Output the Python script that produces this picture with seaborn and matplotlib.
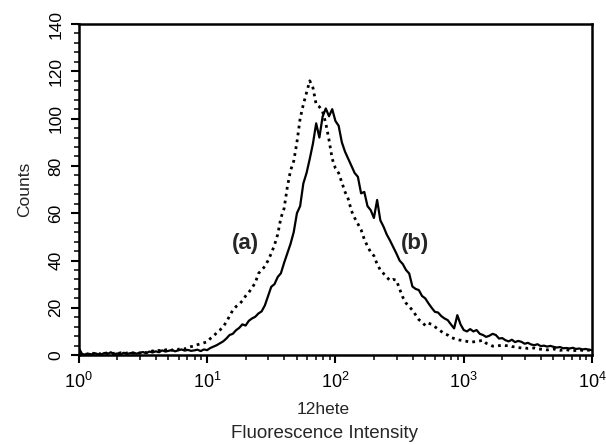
import numpy as np
import pandas as pd
import seaborn as sns
import matplotlib.pyplot as plt
from matplotlib.ticker import MultipleLocator, LogLocator

# log10 channel positions (0 .. 4 decades)
log_pos = np.linspace(0, 4, 161)

# (a) dotted histogram counts
counts_a = [0.5, 0.8, 0.3, 0.6, 1.0, 0.4, 0.7, 0.5, 1.2, 0.6,
            0.4, 0.8, 0.5, 1.0, 0.6, 0.9, 1.3, 0.7, 1.1, 0.8,
            1.5, 1.0, 1.2, 1.8, 1.4, 2.0, 1.6, 2.2, 2.6, 2.0,
            2.8, 2.4, 3.0, 2.6, 3.2, 3.6, 3.8, 4.4, 4.8, 5.2,
            5.6, 7.0, 8.0, 9.5, 10.6, 12.0, 14.0, 16.5, 19.0, 20.5,
            21.5, 23.0, 25.0, 26.5, 28.5, 30.5, 34.5, 36.0, 37.5, 40.0,
            43.0, 46.5, 51.0, 58.0, 62.0, 71.0, 78.0, 82.0, 90.0, 100.0,
            106.0, 111.0, 116.0, 113.0, 106.0, 105.0, 103.0, 98.0, 91.0, 83.0,
            79.0, 77.0, 73.0, 69.0, 66.0, 61.0, 58.0, 55.5, 53.0, 49.0,
            46.0, 43.5, 42.0, 38.5, 36.0, 34.5, 33.0, 31.5, 32.0, 31.7,
            28.0, 24.5, 22.0, 20.5, 19.0, 17.0, 15.0, 14.0, 12.5, 13.5,
            13.0, 12.0, 11.0, 10.0, 9.0, 8.5, 7.5, 7.0, 6.5, 6.3,
            6.0, 5.8, 5.5, 5.6, 5.8, 6.0, 6.3, 5.0, 4.5, 3.8,
            3.8, 4.0, 4.2, 4.0, 4.0, 3.6, 3.5, 3.2, 3.0, 3.1,
            2.8, 2.9, 3.0, 2.6, 2.5, 2.4, 2.2, 2.4, 2.6, 2.2,
            2.0, 2.2, 2.3, 2.0, 1.8, 2.0, 2.2, 2.0, 1.9, 2.1,
            2.0]

# (b) solid histogram counts
counts_b = [3.0, 0.5, 0.2, 0.6, 0.3, 0.8, 0.4, 0.3, 0.9, 0.5,
            1.2, 0.4, 0.7, 0.3, 1.0, 0.5, 0.8, 1.1, 0.6, 1.0,
            1.3, 0.8, 1.5, 1.1, 1.6, 1.2, 2.0, 1.5, 1.8, 2.2,
            1.6, 2.0, 2.4, 1.9, 2.2, 1.8, 2.0, 2.3, 1.7, 2.4,
            2.1, 3.0, 3.6, 4.2, 5.0, 5.8, 7.0, 8.5, 9.0, 10.5,
            11.5, 13.0, 12.5, 14.5, 15.5, 16.2, 17.6, 18.5, 21.0, 25.0,
            28.9, 30.0, 33.0, 34.6, 39.0, 43.0, 47.0, 52.0, 60.0, 63.0,
            72.6, 77.0, 83.0, 89.5, 98.0, 92.0, 100.8, 104.3, 101.0, 104.0,
            99.0, 97.0, 90.0, 86.0, 83.0, 80.0, 77.0, 75.4, 68.4, 69.0,
            63.0, 61.3, 58.0, 65.6, 57.0, 54.3, 51.0, 48.5, 45.8, 43.0,
            40.0, 38.5, 36.0, 34.5, 29.0, 28.0, 27.5, 25.0, 24.0, 21.9,
            20.0, 18.3, 18.0, 16.5, 15.5, 14.8, 13.0, 11.3, 16.9, 13.0,
            10.6, 10.0, 11.0, 10.0, 10.6, 9.0, 8.5, 7.7, 8.2, 9.0,
            8.5, 7.0, 7.2, 6.3, 5.8, 6.5, 5.5, 6.0, 5.6, 4.8,
            5.2, 4.5, 4.2, 4.6, 3.8, 4.0, 3.6, 3.9, 3.5, 3.2,
            3.4, 2.9, 3.0, 2.8, 3.1, 2.6, 2.8, 2.4, 2.6, 2.3,
            2.1]

intensity = 10 ** log_pos

sns.set_style("ticks")
plt.rcParams['font.family'] = ['Liberation Sans', 'DejaVu Sans']
plt.rcParams['mathtext.default'] = 'regular'

fig = plt.figure(figsize=(6.06, 4.45), dpi=100)
ax = fig.add_axes([0.130, 0.202, 0.847, 0.744])

sns.lineplot(x=intensity, y=counts_a, ax=ax, color='black', linewidth=2.0,
             linestyle=(0, (1, 1.5)))
sns.lineplot(x=intensity, y=counts_b, ax=ax, color='black', linewidth=1.6)

ax.set_xscale('log')
ax.set_xlim(1, 1e4)
ax.set_ylim(0, 140)
ax.yaxis.set_major_locator(MultipleLocator(20))
ax.yaxis.set_minor_locator(MultipleLocator(4))
ax.xaxis.set_major_locator(LogLocator(base=10))
ax.xaxis.set_minor_locator(LogLocator(base=10, subs=np.arange(2, 10)))

for side in ax.spines.values():
    side.set_linewidth(1.8)
    side.set_color('black')

ax.tick_params(axis='both', which='major', direction='out', length=6, width=1.5,
               colors='black')
ax.tick_params(axis='y', which='major', labelsize=12.5, pad=5)
ax.tick_params(axis='x', which='major', labelsize=13, pad=6)
ax.tick_params(axis='both', which='minor', direction='out', length=3.5, width=1.3)
plt.setp(ax.get_yticklabels(), rotation=90, va='center')

ax.set_ylabel('Counts', fontsize=12.5, labelpad=12)
ax.set_xlabel('')
fig.text(0.533, 1 - 410 / 445, '12hete', fontsize=12.5, ha='center', va='center')
fig.text(0.535, 1 - 433 / 445, 'Fluorescence Intensity', fontsize=13.5,
         ha='center', va='center')

ax.text(10 ** 1.3, 47, '(a)', fontsize=16, fontweight='bold', ha='center', va='center')
ax.text(10 ** 2.62, 47, '(b)', fontsize=16, fontweight='bold', ha='center', va='center')

plt.savefig('out.png', dpi=100)
